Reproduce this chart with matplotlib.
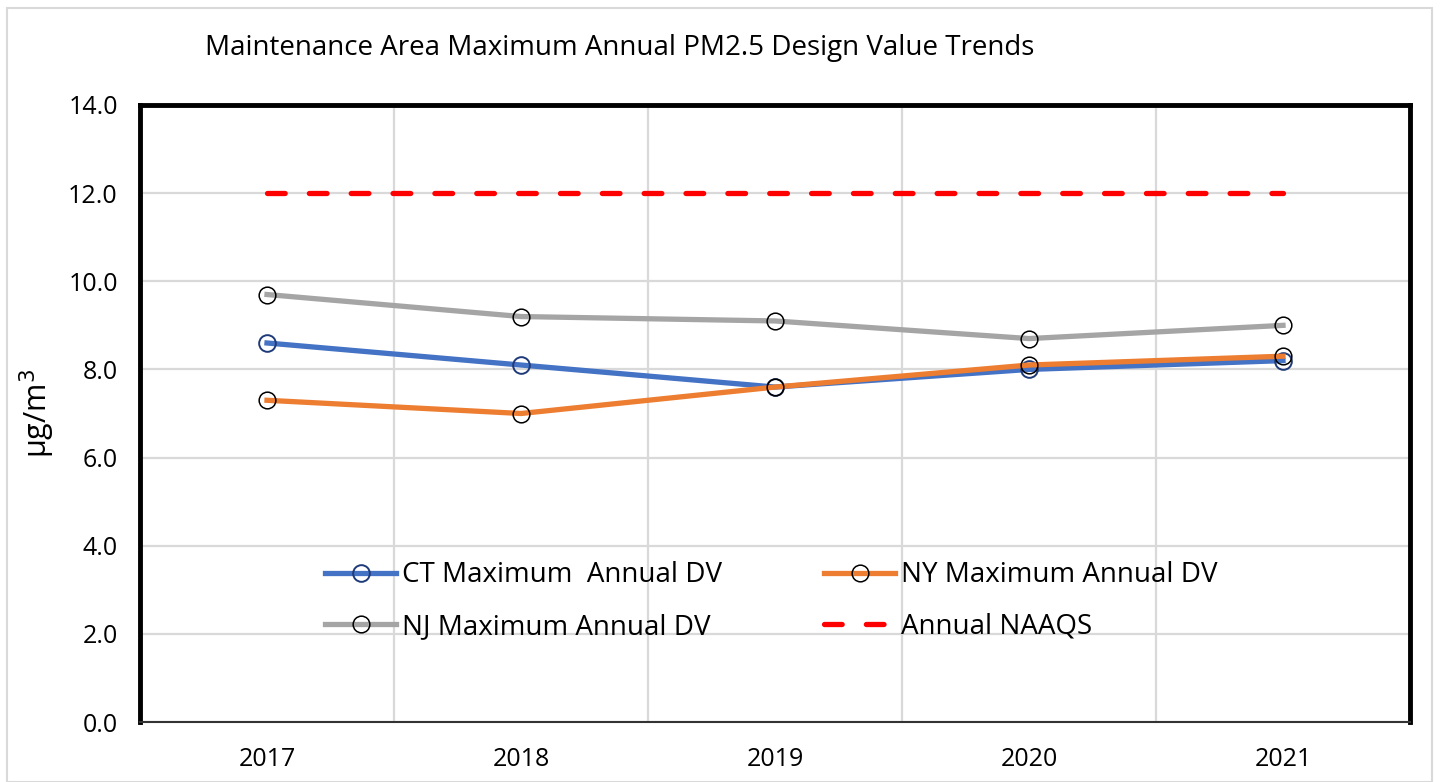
import numpy as np
import matplotlib.pyplot as plt
from matplotlib.patches import Rectangle

years = ['2017', '2018', '2019', '2020', '2021']
ct = [8.6, 8.1, 7.6, 8.0, 8.2]
ny = [7.3, 7.0, 7.6, 8.1, 8.3]
nj = [9.7, 9.2, 9.1, 8.7, 9.0]
naaqs = [12.0, 12.0, 12.0, 12.0, 12.0]

plt.rcParams['font.family'] = ['Open Sans', 'DejaVu Sans']

fig = plt.figure(figsize=(14.4, 7.82), dpi=100)
ax = fig.add_axes([140/1440, 1-722/782, 1270/1440, 617/782])

# outer chart border
fig.patches.append(Rectangle((7/1440, 0), 1425/1440, 1-8/782, transform=fig.transFigure,
                             fill=False, edgecolor='#d9d9d9', lw=1.5))

x = np.arange(len(years))
ax.plot(x, ct, color='#4472c4', lw=3.8, marker='o', ms=12, mfc='none',
        mec='#1f3a78', mew=1.4, label='CT Maximum  Annual DV', zorder=3)
ax.plot(x, ny, color='#ed7d31', lw=3.8, marker='o', ms=12, mfc='none',
        mec='black', mew=1.1, label='NY Maximum Annual DV', zorder=4)
ax.plot(x, nj, color='#a5a5a5', lw=3.8, marker='o', ms=12, mfc='none',
        mec='black', mew=1.1, label='NJ Maximum Annual DV', zorder=3)
ax.plot(x, naaqs, color='#ff0000', lw=3.8, ls=(0, (3.35, 4.58)),
        dash_capstyle='round', label='Annual NAAQS', zorder=3)

ax.set_xlim(-0.5, 4.5)
ax.set_ylim(0, 14)
ax.set_xticks(x)
ax.set_xticklabels(years)
ax.set_xticks(x[:-1] + 0.5, minor=True)
ax.set_yticks(np.arange(0, 15, 2))
ax.set_yticklabels([f'{v:.1f}' for v in np.arange(0, 15, 2)])
ax.tick_params(axis='both', which='both', length=0, labelsize=18)
ax.tick_params(axis='x', pad=18)
ax.tick_params(axis='y', pad=16)
ax.grid(True, axis='y', color='#d9d9d9', lw=1.6)
ax.grid(True, axis='x', which='minor', color='#d9d9d9', lw=1.6)
ax.set_axisbelow(True)

for side in ['left', 'top', 'right']:
    ax.spines[side].set_linewidth(3.5)
    ax.spines[side].set_color('black')
ax.spines['bottom'].set_linewidth(1.5)
ax.spines['bottom'].set_color('#333333')

ax.set_ylabel('µg/m$^3$', fontsize=22, labelpad=8)

fig.text(205/1440, 1-48/782, 'Maintenance Area Maximum Annual PM2.5 Design Value Trends',
         fontsize=20, ha='left', va='center')

handles, labels = ax.get_legend_handles_labels()
order = [0, 2, 1, 3]
ax.legend([handles[i] for i in order], [labels[i] for i in order], ncol=2,
          loc='center', bbox_to_anchor=(0.497, 0.196), frameon=False, fontsize=20,
          handlelength=2.55, handletextpad=0.2, columnspacing=3.7, labelspacing=0.85)

fig.savefig('out.png', dpi=100)
